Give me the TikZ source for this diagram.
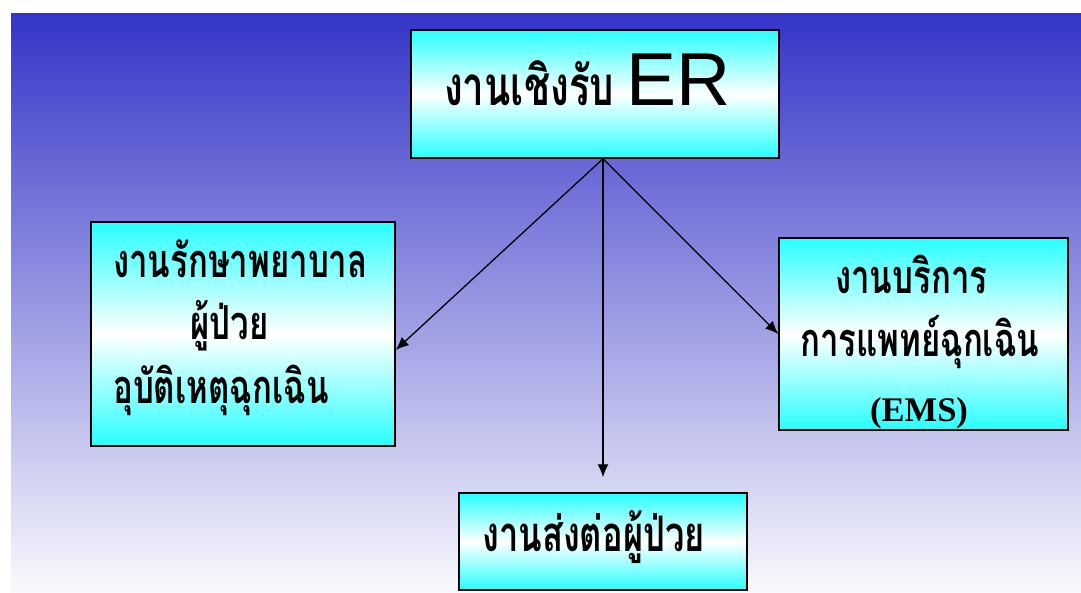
\documentclass[tikz,border=0pt]{standalone}
\usepackage{graphicx}
\usepackage{fontspec}
\setmainfont{Liberation Serif}
\newfontfamily\thai[Script=Thai]{Loma}
\newfontfamily\arialfont{Liberation Sans}
\usetikzlibrary{arrows.meta,calc}
\definecolor{bgtop}{RGB}{52,52,200}
\definecolor{bgbot}{RGB}{250,250,253}
\definecolor{boxc}{RGB}{40,255,255}
\newcommand\tallthai[1]{\scalebox{1}[1.42]{#1}}
\tikzset{
  box/.style={draw=black,line width=1.5pt,top color=boxc,bottom color=boxc,middle color=white,inner sep=0pt},
  thaitxt/.style={font=\thai\bfseries\fontsize{33}{40}\selectfont,text=black,inner sep=0pt,anchor=base west},
  arr/.style={line width=1.3pt,-{Latex[length=13pt,width=11pt]}}
}
\begin{document}
\begin{tikzpicture}[x=1pt,y=-1pt]
\useasboundingbox (0,0) rectangle (1081,593);
\shade[top color=bgtop,bottom color=bgbot] (11,14) rectangle (1081,593);
% boxes
\node[box,minimum width=368pt,minimum height=128pt] (top) at (595,94) {};
\node[box,minimum width=304pt,minimum height=224pt] (left) at (243,334) {};
\node[box,minimum width=289pt,minimum height=192pt] (right) at (923.5,334) {};
\node[box,minimum width=288pt,minimum height=97pt] (bot) at (603,541.5) {};
% texts
\node[thaitxt,font=\thai\bfseries\fontsize{38.5}{44}\selectfont] (t1) at (444,106) {\tallthai{งานเชิงรับ}\hspace{12pt}{\arialfont\mdseries\fontsize{75}{80}\selectfont ER}};
\node[thaitxt] (l1) at (113,278) {\tallthai{งานรักษาพยาบาล}};
\node[thaitxt] (l2) at (190,340) {\tallthai{ผู้ป่วย}};
\node[thaitxt] (l3) at (113,403) {\tallthai{อุบัติเหตุฉุกเฉิน}};
\node[thaitxt] (r1) at (835,294) {\tallthai{งานบริการ}};
\node[thaitxt] (r2) at (800,356) {\tallthai{การแพทย์ฉุกเฉิน}};
\node[font=\bfseries\fontsize{34.5}{40}\selectfont,anchor=base west,inner sep=0pt] (r3) at (870,421) {(EMS)};
\node[thaitxt,font=\thai\bfseries\fontsize{34.5}{40}\selectfont] (b1) at (482,551) {\tallthai{งานส่งต่อผู้ป่วย}};
% connectors
\coordinate (hub) at ($(top.south)+(8,0)$);
\coordinate (downend) at ($(bot.north)+(0,-15)$);
\draw[arr] (hub) -- ($(left.north east)!0.571!(left.south east)$);
\draw[arr] (hub) -- (right.west);
\draw[arr] (hub) -- (downend);
\end{tikzpicture}
\end{document}
